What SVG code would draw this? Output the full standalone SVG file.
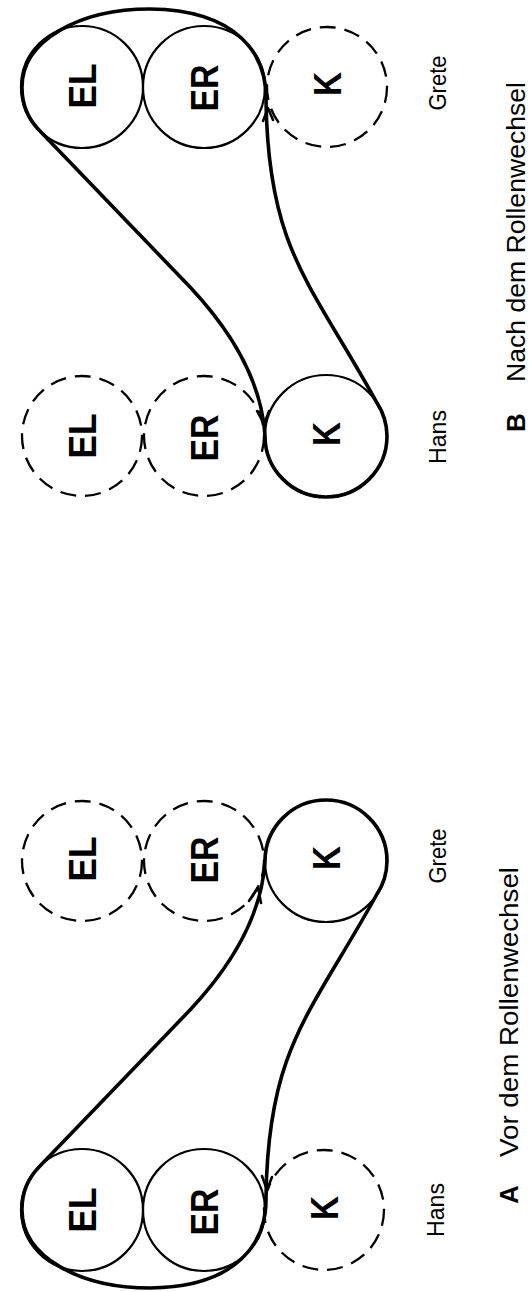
<svg xmlns="http://www.w3.org/2000/svg" width="529" height="1292" viewBox="0 0 529 1292">
<style>
.c{fill:none;stroke:#000;stroke-width:2.2}
.d{fill:none;stroke:#000;stroke-width:2.3;stroke-dasharray:16 9}
.env{fill:none;stroke:#000;stroke-width:3.6;stroke-linejoin:round}
.ah{fill:none;stroke:#000;stroke-width:2.5;stroke-linecap:round;stroke-linejoin:round}
.lb{font-family:"Liberation Sans",Arial,sans-serif;font-weight:bold;font-size:38px;text-anchor:middle}
.nm{font-family:"Liberation Sans",Arial,sans-serif;font-size:23px;text-anchor:middle}
.cap{font-family:"Liberation Sans",Arial,sans-serif;font-size:26px}
.capb{font-family:"Liberation Sans",Arial,sans-serif;font-size:26px;font-weight:bold}
</style>
<rect width="529" height="1292" fill="#fff"/>

<!-- Panel B (top) -->
<g id="B_EL_Grete"><circle class="c" cx="82" cy="87" r="61"/><text class="lb" transform="translate(82,86) rotate(-90)" y="13.6" textLength="45" lengthAdjust="spacingAndGlyphs">EL</text></g>
<g id="B_ER_Grete"><circle class="c" cx="204" cy="87" r="61"/><text class="lb" transform="translate(204,88) rotate(-90)" y="13.6" textLength="47" lengthAdjust="spacingAndGlyphs">ER</text></g>
<g id="B_K_Grete"><circle class="d" cx="327" cy="87" r="60"/><text class="lb" transform="translate(327,84) rotate(-90)" y="13.6" textLength="24" lengthAdjust="spacingAndGlyphs">K</text></g>
<g id="B_EL_Hans"><circle class="d" cx="82" cy="436" r="60"/><text class="lb" transform="translate(82,436) rotate(-90)" y="13.6" textLength="45" lengthAdjust="spacingAndGlyphs">EL</text></g>
<g id="B_ER_Hans"><circle class="d" cx="204" cy="436" r="60"/><text class="lb" transform="translate(204,438) rotate(-90)" y="13.6" textLength="47" lengthAdjust="spacingAndGlyphs">ER</text></g>
<g id="B_K_Hans"><circle class="c" cx="326" cy="436" r="61"/><text class="lb" transform="translate(326,434) rotate(-90)" y="13.6" textLength="24" lengthAdjust="spacingAndGlyphs">K</text></g>
<g id="B_label_Grete"><text class="nm" transform="translate(438,83) rotate(-90)" y="8.2" textLength="55" lengthAdjust="spacingAndGlyphs">Grete</text></g>
<g id="B_label_Hans"><text class="nm" transform="translate(438,437) rotate(-90)" y="8.2" textLength="54" lengthAdjust="spacingAndGlyphs">Hans</text></g>
<g id="B_caption">
<text class="capb" transform="translate(525,432) rotate(-90)">B</text>
<text class="cap" transform="translate(525,382) rotate(-90)" textLength="300" lengthAdjust="spacingAndGlyphs">Nach dem Rollenwechsel</text>
</g>

<!-- Panel A (bottom) -->
<g id="A_EL_Grete"><circle class="d" cx="82" cy="861" r="60"/><text class="lb" transform="translate(82,859) rotate(-90)" y="13.6" textLength="45" lengthAdjust="spacingAndGlyphs">EL</text></g>
<g id="A_ER_Grete"><circle class="d" cx="204" cy="861" r="60"/><text class="lb" transform="translate(204,860) rotate(-90)" y="13.6" textLength="47" lengthAdjust="spacingAndGlyphs">ER</text></g>
<g id="A_K_Grete"><circle class="c" cx="326" cy="861" r="61"/><text class="lb" transform="translate(326,858) rotate(-90)" y="13.6" textLength="24" lengthAdjust="spacingAndGlyphs">K</text></g>
<g id="A_EL_Hans"><circle class="c" cx="82" cy="1210" r="61"/><text class="lb" transform="translate(82,1210) rotate(-90)" y="13.6" textLength="45" lengthAdjust="spacingAndGlyphs">EL</text></g>
<g id="A_ER_Hans"><circle class="c" cx="204" cy="1210" r="61"/><text class="lb" transform="translate(204,1212) rotate(-90)" y="13.6" textLength="47" lengthAdjust="spacingAndGlyphs">ER</text></g>
<g id="A_K_Hans"><circle class="d" cx="324" cy="1210" r="60"/><text class="lb" transform="translate(324,1208) rotate(-90)" y="13.6" textLength="24" lengthAdjust="spacingAndGlyphs">K</text></g>
<g id="A_label_Grete"><text class="nm" transform="translate(438,856) rotate(-90)" y="8.2" textLength="55" lengthAdjust="spacingAndGlyphs">Grete</text></g>
<g id="A_label_Hans"><text class="nm" transform="translate(436,1210) rotate(-90)" y="8.2" textLength="54" lengthAdjust="spacingAndGlyphs">Hans</text></g>
<g id="A_caption">
<text class="capb" transform="translate(518,1204) rotate(-90)">A</text>
<text class="cap" transform="translate(518,1157) rotate(-90)" textLength="290" lengthAdjust="spacingAndGlyphs">Vor dem Rollenwechsel</text>
</g>

<!-- Connectors -->
<g id="connectors">
<path class="env" d="M39,130 L190,287 C235,335 262,385 265,436 A61 61 0 0 0 387,436 A61 61 0 0 0 377,403 C311,283 268,250 266,100 C267,55 238,10 150,9 C80,9 22,40 22,87 A61 61 0 0 0 39,130 Z"/>
<path class="ah" d="M263,121 L268,108 L273,120"/>
<path class="ah" d="M257,411 L264,424 L269,411"/>
<path class="env" d="M39,1167 L190,1010 C235,962 262,912 265,861 A61 61 0 0 1 387,861 A61 61 0 0 1 377,894 C311,1014 268,1047 266,1197 C267,1242 238,1287 150,1288 C80,1288 22,1257 22,1210 A61 61 0 0 1 39,1167 Z"/>
<path class="ah" d="M249,901 L258,887 L261,903"/>
<path class="ah" d="M262,1176 L267,1190 L272,1177"/>
</g>
</svg>
